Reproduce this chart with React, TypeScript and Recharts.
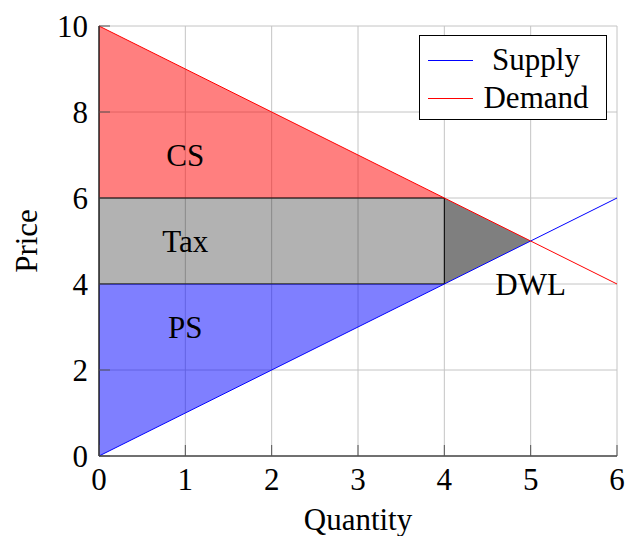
import React from 'react';
import {
  ComposedChart,
  Area,
  Line,
  XAxis,
  YAxis,
  CartesianGrid,
  ReferenceLine,
  ReferenceDot,
  Legend,
} from 'recharts';

// market data
const quantity = [0, 4, 5, 6];
const supplyPrice = [0, 4, 5, 6];
const demandPrice = [10, 6, 5, 4];

// tax wedge
const buyerPrice = 6;
const sellerPrice = 4;
const taxedQuantity = 4;

const xTicks = [0, 1, 2, 3, 4, 5, 6];
const yTicks = [0, 2, 4, 6, 8, 10];

const regionNames = ['CS', 'Tax', 'PS', 'DWL'];
const regionQ = [1, 1, 1, 5];
const regionP = [7, 5, 3, 4];

const FONT = '"Liberation Serif", "DejaVu Serif", serif';
const FS = 31;

const rows = quantity.map((q, i) => {
  const s = supplyPrice[i];
  const d = demandPrice[i];
  const inTaxed = q <= taxedQuantity;
  return {
    q,
    supply: s,
    demand: d,
    cs: inTaxed ? [buyerPrice, d] : null,
    tax: inTaxed ? [sellerPrice, buyerPrice] : null,
    ps: inTaxed ? [s, sellerPrice] : null,
    dwl: q >= taxedQuantity && s <= d ? [s, d] : null,
  };
});

const TICK_LEN = 11;
const TICK_COLOR = '#555';

function BottomTick(props: any) {
  const { x, y, payload } = props;
  return (
    <g>
      <line x1={x} y1={y} x2={x} y2={y - TICK_LEN} stroke={TICK_COLOR} />
      <text x={x} y={y + 34} textAnchor="middle" fontSize={FS} fontFamily={FONT} fill="#000">
        {payload.value}
      </text>
    </g>
  );
}

function LeftTick(props: any) {
  const { x, y, payload } = props;
  return (
    <g>
      <line x1={x} y1={y} x2={x + TICK_LEN} y2={y} stroke={TICK_COLOR} />
      <text x={x - 11} y={y + 11} textAnchor="end" fontSize={FS} fontFamily={FONT} fill="#000">
        {payload.value}
      </text>
    </g>
  );
}

function TopTick(props: any) {
  const { x, y } = props;
  return <line x1={x} y1={y} x2={x} y2={y + TICK_LEN} stroke={TICK_COLOR} />;
}

function RightTick(props: any) {
  const { x, y } = props;
  return <line x1={x} y1={y} x2={x - TICK_LEN} y2={y} stroke={TICK_COLOR} />;
}

function LegendBox() {
  const items = [
    { name: 'Supply', color: '#0000ff' },
    { name: 'Demand', color: '#ff0000' },
  ];
  return (
    <div
      style={{
        boxSizing: 'border-box',
        width: 188,
        height: 85,
        border: '1px solid #000',
        background: '#fff',
        paddingTop: 5,
        fontFamily: FONT,
        fontSize: FS,
        color: '#000',
      }}
    >
      {items.map((it) => (
        <div key={it.name} style={{ display: 'flex', alignItems: 'center', height: 38 }}>
          <div style={{ marginLeft: 8, width: 45, height: 1, background: it.color }} />
          <div style={{ marginLeft: 7, width: 112, textAlign: 'center', lineHeight: '38px' }}>
            {it.name}
          </div>
        </div>
      ))}
    </div>
  );
}

export default function App() {
  return (
    <div style={{ position: 'absolute', left: 0, top: 0 }}>
      <ComposedChart
        width={627}
        height={536}
        data={rows}
        margin={{ top: 26, right: 10, bottom: 40, left: 39 }}
      >
        <CartesianGrid xAxisId="b" yAxisId="l" stroke="#c4c4c4" strokeWidth={1} />
        <XAxis
          xAxisId="b"
          dataKey="q"
          type="number"
          domain={[0, 6]}
          ticks={xTicks}
          interval={0}
          height={40}
          axisLine={{ stroke: '#000', strokeWidth: 1.2 }}
          tickLine={false}
          tickSize={0}
          tickMargin={0}
          tick={(p: any) => <BottomTick {...p} />}
          label={{
            content: (p: any) => {
              const vb = p.viewBox;
              return (
                <text
                  x={vb.x + vb.width / 2}
                  y={vb.y + 74}
                  textAnchor="middle"
                  fontSize={FS}
                  fontFamily={FONT}
                  fill="#000"
                >
                  Quantity
                </text>
              );
            },
          }}
        />
        <XAxis
          xAxisId="t"
          orientation="top"
          dataKey="q"
          type="number"
          domain={[0, 6]}
          ticks={xTicks}
          interval={0}
          height={0}
          axisLine={{ stroke: '#000', strokeWidth: 1.2 }}
          tickLine={false}
          tickSize={0}
          tickMargin={0}
          tick={(p: any) => <TopTick {...p} />}
        />
        <YAxis
          yAxisId="l"
          type="number"
          domain={[0, 10]}
          ticks={yTicks}
          interval={0}
          width={60}
          axisLine={{ stroke: '#000', strokeWidth: 1.2 }}
          tickLine={false}
          tickSize={0}
          tickMargin={0}
          tick={(p: any) => <LeftTick {...p} />}
          label={{
            content: (p: any) => {
              const vb = p.viewBox;
              const cy = vb.y + vb.height / 2;
              return (
                <text
                  x={37}
                  y={cy}
                  transform={`rotate(-90, 37, ${cy})`}
                  textAnchor="middle"
                  fontSize={FS}
                  fontFamily={FONT}
                  fill="#000"
                >
                  Price
                </text>
              );
            },
          }}
        />
        <YAxis
          yAxisId="r"
          orientation="right"
          type="number"
          domain={[0, 10]}
          ticks={yTicks}
          interval={0}
          width={0}
          axisLine={{ stroke: '#000', strokeWidth: 1.2 }}
          tickLine={false}
          tickSize={0}
          tickMargin={0}
          tick={(p: any) => <RightTick {...p} />}
        />

        <Area
          xAxisId="b"
          yAxisId="l"
          dataKey="cs"
          type="linear"
          fill="#ff0000"
          fillOpacity={0.5}
          stroke="none"
          dot={false}
          activeDot={false}
          legendType="none"
          isAnimationActive={false}
        />
        <Area
          xAxisId="b"
          yAxisId="l"
          dataKey="tax"
          type="linear"
          fill="#000000"
          fillOpacity={0.3}
          stroke="#000"
          strokeWidth={1}
          dot={false}
          activeDot={false}
          legendType="none"
          isAnimationActive={false}
        />
        <Area
          xAxisId="b"
          yAxisId="l"
          dataKey="ps"
          type="linear"
          fill="#0000ff"
          fillOpacity={0.5}
          stroke="none"
          dot={false}
          activeDot={false}
          legendType="none"
          isAnimationActive={false}
        />
        <Area
          xAxisId="b"
          yAxisId="l"
          dataKey="dwl"
          type="linear"
          fill="#000000"
          fillOpacity={0.5}
          stroke="none"
          dot={false}
          activeDot={false}
          legendType="none"
          isAnimationActive={false}
        />
        <ReferenceLine
          xAxisId="b"
          yAxisId="l"
          segment={[
            { x: taxedQuantity, y: sellerPrice },
            { x: taxedQuantity, y: buyerPrice },
          ]}
          stroke="#000"
          strokeWidth={1}
        />
        <Line
          xAxisId="b"
          yAxisId="l"
          dataKey="supply"
          name="Supply"
          type="linear"
          stroke="#0000ff"
          strokeWidth={1}
          dot={false}
          activeDot={false}
          isAnimationActive={false}
        />
        <Line
          xAxisId="b"
          yAxisId="l"
          dataKey="demand"
          name="Demand"
          type="linear"
          stroke="#ff0000"
          strokeWidth={1}
          dot={false}
          activeDot={false}
          isAnimationActive={false}
        />
        {regionNames.map((name, i) => (
          <ReferenceDot
            key={name}
            xAxisId="b"
            yAxisId="l"
            x={regionQ[i]}
            y={regionP[i]}
            r={0}
            stroke="none"
            fill="none"
            label={{
              value: name,
              position: 'center',
              fontSize: FS,
              fontFamily: FONT,
              fill: '#000',
            }}
          />
        ))}
        <Legend
          layout="horizontal"
          verticalAlign="middle"
          align="center"
          wrapperStyle={{ left: 419, top: 35, width: 188, height: 85 }}
          content={() => <LegendBox />}
        />
      </ComposedChart>
    </div>
  );
}
